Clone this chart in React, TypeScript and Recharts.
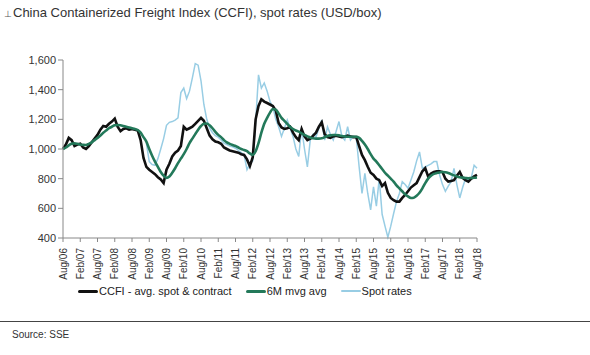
import { LineChart, Line, XAxis, YAxis } from 'recharts';

// monthly, Aug 2006 .. Aug 2018
const startYear = 2006;
const startMonth = 7; // Aug (0-based)
const monthNames = ['Jan', 'Feb', 'Mar', 'Apr', 'May', 'Jun', 'Jul', 'Aug', 'Sep', 'Oct', 'Nov', 'Dec'];

const ccfi = [
  1000, 1030, 1075, 1060, 1020, 1030, 1035, 1010, 1000, 1020, 1045, 1070,
  1095, 1130, 1155, 1150, 1170, 1185, 1205, 1150, 1120, 1135, 1140, 1130,
  1135, 1130, 1125, 1060, 940, 880, 860, 845, 830, 810, 795, 770,
  860, 900, 950, 975, 990, 1020, 1150, 1130, 1140, 1150, 1170, 1190,
  1210, 1190, 1140, 1090, 1065, 1050, 1045, 1035, 1010, 1000, 990, 985,
  980, 975, 965, 960, 930, 885, 945, 1200, 1290, 1335, 1320, 1310,
  1300, 1290, 1260, 1175, 1145, 1135, 1140, 1150, 1110, 1080, 1060, 1135,
  1085, 1060, 1070, 1090, 1110, 1150, 1180, 1100, 1080, 1075, 1085, 1090,
  1085, 1080, 1085, 1090, 1085, 1080, 1080, 1020, 960, 925, 880, 840,
  825, 800, 790, 750, 770, 705, 670, 655, 645, 645, 670, 690,
  715, 740, 755, 770, 810, 850, 870, 815, 835, 845, 850, 850,
  845, 800, 780, 785, 790, 820, 845, 805, 790, 780, 800, 815,
  825,
];

const mvgAvg = [
  1000, 1010, 1025, 1035, 1038, 1035, 1030, 1028, 1027, 1035, 1045, 1060,
  1075, 1090, 1110, 1125, 1140, 1150, 1160, 1162, 1160, 1155, 1150, 1145,
  1140, 1135, 1128, 1110, 1080, 1050, 1000, 955, 915, 880, 845, 820,
  805, 815, 840, 870, 905, 935, 965, 1000, 1040, 1070, 1100, 1130,
  1155, 1170, 1172, 1160, 1140, 1115, 1095, 1080, 1060, 1045, 1035, 1027,
  1020, 1010, 1000, 993, 985, 970, 960, 985, 1040, 1110, 1170, 1210,
  1245, 1270, 1265, 1240, 1210, 1190, 1170, 1150, 1135, 1125, 1117, 1105,
  1095, 1085, 1078, 1072, 1070, 1070, 1072, 1080, 1088, 1092, 1094, 1094,
  1092, 1088, 1085, 1083, 1083, 1083, 1083, 1075, 1055, 1030, 1000, 965,
  935, 915, 890, 865, 840, 820, 800, 780, 755, 735, 715, 695,
  680, 670, 672, 685, 705, 735, 770, 800, 820, 832, 838, 842,
  845, 843, 838, 830, 822, 815, 810, 807, 805, 803, 805, 806,
  808,
];

// spot rates start in Jan 2009
const spotRates = [
  null, null, null, null, null, null, null, null, null, null, null, null,
  null, null, null, null, null, null, null, null, null, null, null, null,
  null, null, null, null, null, 1040, 915, 895, 890, 935, 1000, 1070,
  1160, 1180, 1185, 1195, 1210, 1380, 1410, 1340, 1390, 1480, 1575, 1565,
  1460, 1300, 1200, 1140, 1110, 1090, 1080, 1060, 1040, 1030, 1020, 1015,
  1005, 990, 975, 960, 860, 900, 920, 1180, 1500, 1410, 1445, 1390,
  1320, 1285, 1200, 1150, 1085, 1140, 1195, 1140, 1085, 1000, 950, 1140,
  1000, 880, 1060, 1100, 1080, 1140, 1195, 1060, 1150, 1100, 1060, 1120,
  1185, 1085, 1060, 1150, 1060, 1085, 1080, 880, 700, 835, 700, 590,
  745, 615, 800, 560, 480, 405, 480, 565, 645, 700, 780, 760,
  735, 790, 845, 920, 980, 870, 880, 890, 900, 915, 915, 825,
  760, 715, 750, 780, 870, 760, 670, 740, 800, 790, 805, 890,
  870,
];

const yTicks = [400, 600, 800, 1000, 1200, 1400, 1600];

const data = ccfi.map((v, i) => {
  const m = (startMonth + i) % 12;
  const y = startYear + Math.floor((startMonth + i) / 12);
  return {
    label: `${monthNames[m]}/${String(y).slice(2)}`,
    ccfi: v,
    avg: mvgAvg[i],
    spot: spotRates[i],
  };
});

const FONT = '"Liberation Sans", Arial, sans-serif';

function XTick(props: any) {
  const { x, y, payload } = props;
  return (
    <text
      x={x}
      y={y + 4}
      transform={`rotate(-90 ${x} ${y + 4})`}
      textAnchor="end"
      dominantBaseline="central"
      fontSize={10}
      fontFamily={FONT}
      fill="#333"
    >
      {payload.value}
    </text>
  );
}

function LegendItem({ color, width, label }: { color: string; width: number; label: string }) {
  return (
    <div style={{ display: 'flex', alignItems: 'center', marginRight: 14 }}>
      <div style={{ width: 20, height: width, background: color, borderRadius: 2 }} />
      <span style={{ marginLeft: 1 }}>{label}</span>
    </div>
  );
}

export default function App() {
  return (
    <div
      style={{
        position: 'absolute',
        left: 0,
        top: 0,
        width: 590,
        height: 355,
        background: '#fff',
        fontFamily: FONT,
        color: '#222',
        overflow: 'hidden',
      }}
    >
      <div style={{ position: 'absolute', left: 4, top: 5, fontSize: 13, color: '#333', whiteSpace: 'nowrap' }}>
        <span style={{ fontSize: 9, color: '#555', marginRight: 1 }}>⊥</span>
        China Containerized Freight Index (CCFI), spot rates (USD/box)
      </div>

      <div style={{ position: 'absolute', left: 0, top: 0 }}>
        <LineChart width={590} height={300} data={data} margin={{ top: 60, right: 113, left: 3, bottom: 22 }}>
          <XAxis
            dataKey="label"
            interval={5}
            tick={<XTick />}
            tickLine={{ stroke: '#888' }}
            axisLine={{ stroke: '#888' }}
            tickSize={4}
            height={40}
          />
          <YAxis
            domain={[400, 1600]}
            ticks={yTicks}
            tickFormatter={(v: number) => v.toLocaleString('en-US')}
            tick={{ fontSize: 11, fill: '#333', fontFamily: FONT }}
            tickLine={{ stroke: '#888' }}
            axisLine={{ stroke: '#888' }}
            tickSize={5}
            width={60}
          />
          <Line
            type="linear"
            dataKey="spot"
            stroke="#98cde4"
            strokeWidth={1.5}
            dot={false}
            connectNulls={false}
            isAnimationActive={false}
          />
          <Line
            type="linear"
            dataKey="ccfi"
            stroke="#111"
            strokeWidth={2.6}
            dot={false}
            isAnimationActive={false}
          />
          <Line
            type="monotone"
            dataKey="avg"
            stroke="#23795a"
            strokeWidth={2.6}
            dot={false}
            isAnimationActive={false}
          />
        </LineChart>
      </div>

      <div
        style={{
          position: 'absolute',
          left: 78,
          top: 285,
          display: 'flex',
          fontSize: 11,
          whiteSpace: 'nowrap',
        }}
      >
        <LegendItem color="#111" width={3} label="CCFI - avg. spot & contract" />
        <LegendItem color="#23795a" width={3} label="6M mvg avg" />
        <LegendItem color="#98cde4" width={1.5} label="Spot rates" />
      </div>

      <div style={{ position: 'absolute', left: 0, top: 321, width: 590, height: 1, background: '#444' }} />
      <div style={{ position: 'absolute', left: 12, top: 329, fontSize: 10, color: '#333' }}>Source: SSE</div>
    </div>
  );
}
